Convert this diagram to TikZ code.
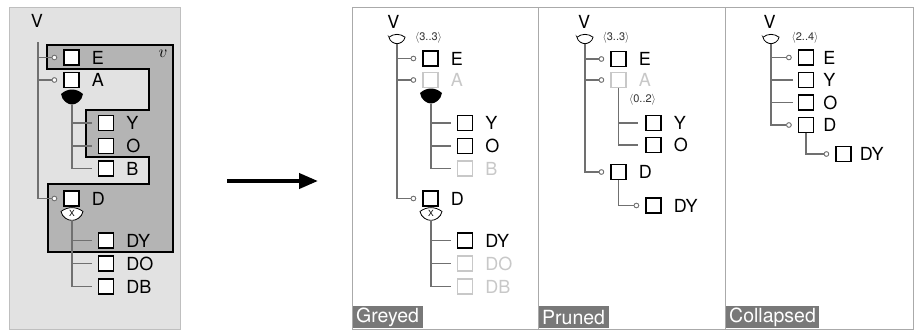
\documentclass[tikz,border=0pt]{standalone}
\usepackage{fontspec}
\setmainfont{TeX Gyre Heros}
\usetikzlibrary{arrows.meta}
\definecolor{lnc}{HTML}{707070}
\definecolor{dis}{HTML}{C8C8C8}
\definecolor{bgl}{HTML}{E2E2E2}
\definecolor{bgd}{HTML}{B4B4B4}
\definecolor{pb}{HTML}{AAAAAA}
\definecolor{tagc}{HTML}{787878}
\begin{document}
\begin{tikzpicture}[x=1pt,y=-1pt,
 fbox/.style={draw=black, line width=1.2pt, fill=white, minimum size=15pt, inner sep=0pt},
 fboxd/.style={fbox, draw=dis},
 ftxt/.style={anchor=west, inner sep=0pt, font=\fontsize{18}{20}\selectfont},
 ftxtd/.style={ftxt, text=dis},
 vtxt/.style={inner sep=0pt, font=\fontsize{18}{20}\selectfont},
 opt/.style={circle, draw=lnc, fill=white, line width=0.8pt, minimum size=4.6pt, inner sep=0pt},
 conn/.style={draw=lnc, line width=1.1pt},
 card/.style={inner sep=0pt, font=\fontsize{11}{11}\selectfont, text=black!80},
 xlab/.style={inner sep=0pt, font=\fontsize{8.5}{8.5}\selectfont},
 panel/.style={draw=pb, line width=1pt, fill=white},
 tag/.style={fill=tagc, text=white, anchor=south west, font=\fontsize{19.5}{19.5}\selectfont, inner xsep=3.5pt, inner ysep=0pt, minimum height=22pt},
 grp/.pic={\path[pic actions] (-11,-3) .. controls (-4,-9) and (4,-9) .. (11,-3) .. controls (10,4) and (4,7.5) .. (0,7.5) .. controls (-4,7.5) and (-10,4) .. cycle; \coordinate (-bot) at (0,7.5);},
 orgrp/.style={fill=black},
 xgrp/.style={draw=black, fill=white, line width=0.8pt, yscale=0.85},
 cgrp/.style={draw=black, fill=white, line width=0.8pt, xscale=0.73, yscale=0.62}
]
\useasboundingbox (0,0) rectangle (914,333);

% ---------------- left panel ----------------
\fill[bgl, draw=black!25, line width=0.6pt] (9,7) rectangle (180,329);
\draw[fill=bgd, line width=1.3pt] (47,45) -- (173,45) -- (173,252) -- (48,252) -- (48,184) -- (149,184) -- (149,157) -- (86,157) -- (86,110) -- (149,110) -- (149,69) -- (47,69) -- cycle;
\node[inner sep=0pt, font=\fontsize{16}{16}\selectfont] (lv) at (163,54) {$v$};

\node[vtxt] (lV) at (37,21) {V};
\coordinate (lVb) at (38,42);
\node[fbox] (lE) at (71.5,57.5) {}; \node[ftxt] (lEt) at ([xshift=12pt]lE.east) {E};
\node[opt] (lEo) at ([xshift=-9pt]lE.west) {};
\node[fbox] (lA) at (71.5,80) {}; \node[ftxt] (lAt) at ([xshift=12pt]lA.east) {A};
\node[opt] (lAo) at ([xshift=-9pt]lA.west) {};
\pic[orgrp] (lgA) at (72,97) {grp};
\node[fbox] (lY) at (106,123) {}; \node[ftxt] (lYt) at ([xshift=12pt]lY.east) {Y};
\node[fbox] (lO) at (106,146) {}; \node[ftxt] (lOt) at ([xshift=12pt]lO.east) {O};
\node[fbox] (lB) at (106,168.5) {}; \node[ftxt] (lBt) at ([xshift=12pt]lB.east) {B};
\node[fbox] (lD) at (71.5,198.5) {}; \node[ftxt] (lDt) at ([xshift=12pt]lD.east) {D};
\node[opt] (lDo) at ([xshift=-9pt]lD.west) {};
\pic[xgrp] (lgD) at (72,214) {grp};
\node[xlab] (lgDx) at (72,213) {X};
\node[fbox] (lDY) at (106,240.5) {}; \node[ftxt] (lDYt) at ([xshift=12pt]lDY.east) {DY};
\node[fbox] (lDO) at (106,263.5) {}; \node[ftxt] (lDOt) at ([xshift=12pt]lDO.east) {DO};
\node[fbox] (lDB) at (106,286.5) {}; \node[ftxt] (lDBt) at ([xshift=12pt]lDB.east) {DB};
\draw[conn] (lVb) |- (lEo);
\draw[conn] (lVb) |- (lAo);
\draw[conn] (lVb) |- (lDo);
\draw[conn, shorten >=6pt] (lgA-bot) |- (lY.west);
\draw[conn, shorten >=6pt] (lgA-bot) |- (lO.west);
\draw[conn, shorten >=6pt] (lgA-bot) |- (lB.west);
\draw[conn, shorten >=6pt] (lgD-bot) |- (lDY.west);
\draw[conn, shorten >=6pt] (lgD-bot) |- (lDO.west);
\draw[conn, shorten >=6pt] (lgD-bot) |- (lDB.west);
\node[opt] at (lEo) {};
\node[opt] at (lAo) {};
\node[opt] at (lDo) {};

% ---------------- arrow ----------------
\coordinate (arS) at (227,181);
\coordinate (arE) at (318,181);
\draw[line width=4pt, -{Triangle[length=19pt,width=15pt]}] (arS) -- (arE);

% ---------------- panels ----------------
\draw[panel] (352,7) rectangle (538,329);
\draw[panel] (538,7) rectangle (725,329);
\draw[panel] (725,7) rectangle (913,329);
\node[tag] (tg) at (352.5,328.5) {Greyed};
\node[tag] (tp) at (538.5,328.5) {Pruned};
\node[tag] (tc) at (725.5,328.5) {Collapsed};

% ---------------- Greyed ----------------
\node[vtxt] (gV) at (393.5,22) {V};
\pic[cgrp] (ggV) at (397,39) {grp};
\node[card] (gc) at (428.5,38) {$\langle$3..3$\rangle$};
\node[fbox] (gE) at (430.5,58.5) {}; \node[ftxt] (gEt) at ([xshift=12pt]gE.east) {E};
\node[opt] (gEo) at ([xshift=-9pt]gE.west) {};
\node[fboxd] (gA) at (430.5,80) {}; \node[ftxtd] (gAt) at ([xshift=12pt]gA.east) {A};
\node[opt] (gAo) at ([xshift=-9pt]gA.west) {};
\pic[orgrp] (ggA) at (431,96) {grp};
\node[fbox] (gY) at (465,123) {}; \node[ftxt] (gYt) at ([xshift=12pt]gY.east) {Y};
\node[fbox] (gO) at (465,146) {}; \node[ftxt] (gOt) at ([xshift=12pt]gO.east) {O};
\node[fboxd] (gB) at (465,168.5) {}; \node[ftxtd] (gBt) at ([xshift=12pt]gB.east) {B};
\node[fbox] (gD) at (430.5,198.5) {}; \node[ftxt] (gDt) at ([xshift=12pt]gD.east) {D};
\node[opt] (gDo) at ([xshift=-9pt]gD.west) {};
\pic[xgrp] (ggD) at (431,214) {grp};
\node[xlab] (ggDx) at (431,213) {X};
\node[fbox] (gDY) at (465,240.5) {}; \node[ftxt] (gDYt) at ([xshift=12pt]gDY.east) {DY};
\node[fboxd] (gDO) at (465,263.5) {}; \node[ftxtd] (gDOt) at ([xshift=12pt]gDO.east) {DO};
\node[fboxd] (gDB) at (465,286.5) {}; \node[ftxtd] (gDBt) at ([xshift=12pt]gDB.east) {DB};
\draw[conn] (ggV-bot) |- (gEo);
\draw[conn] (ggV-bot) |- (gAo);
\draw[conn] (ggV-bot) |- (gDo);
\draw[conn, shorten >=6pt] (ggA-bot) |- (gY.west);
\draw[conn, shorten >=6pt] (ggA-bot) |- (gO.west);
\draw[conn, shorten >=6pt] (ggA-bot) |- (gB.west);
\draw[conn, shorten >=6pt] (ggD-bot) |- (gDY.west);
\draw[conn, shorten >=6pt] (ggD-bot) |- (gDO.west);
\draw[conn, shorten >=6pt] (ggD-bot) |- (gDB.west);
\node[opt] at (gEo) {};
\node[opt] at (gAo) {};
\node[opt] at (gDo) {};

% ---------------- Pruned ----------------
\node[vtxt] (pV) at (584,22) {V};
\pic[cgrp] (pgV) at (585,39) {grp};
\node[card] (pc) at (616,38) {$\langle$3..3$\rangle$};
\node[fbox] (pE) at (618.5,59) {}; \node[ftxt] (pEt) at ([xshift=12pt]pE.east) {E};
\node[opt] (pEo) at ([xshift=-9pt]pE.west) {};
\node[fboxd] (pA) at (618.5,80) {}; \node[ftxtd] (pAt) at ([xshift=12pt]pA.east) {A};
\node[opt] (pAo) at ([xshift=-9pt]pA.west) {};
\node[card] (pc2) at (642.5,100) {$\langle$0..2$\rangle$};
\node[fbox] (pY) at (653.5,123) {}; \node[ftxt] (pYt) at ([xshift=12pt]pY.east) {Y};
\node[fbox] (pO) at (653.5,145) {}; \node[ftxt] (pOt) at ([xshift=12pt]pO.east) {O};
\node[fbox] (pD) at (618.5,172) {}; \node[ftxt] (pDt) at ([xshift=12pt]pD.east) {D};
\node[opt] (pDo) at ([xshift=-9pt]pD.west) {};
\node[fbox] (pDY) at (653.5,205.5) {}; \node[ftxt] (pDYt) at ([xshift=12pt]pDY.east) {DY};
\node[opt] (pDYo) at ([xshift=-9pt]pDY.west) {};
\draw[conn] (pgV-bot) |- (pEo);
\draw[conn] (pgV-bot) |- (pAo);
\draw[conn] (pgV-bot) |- (pDo);
\draw[conn, shorten >=7pt] (pA.south) |- (pY.west);
\draw[conn, shorten >=7pt] (pA.south) |- (pO.west);
\draw[conn] (pD.south) |- (pDYo);
\node[opt] at (pEo) {};
\node[opt] at (pAo) {};
\node[opt] at (pDo) {};
\node[opt] at (pDYo) {};

% ---------------- Collapsed ----------------
\node[vtxt] (cV) at (769.5,22) {V};
\pic[cgrp] (cgV) at (771,39) {grp};
\node[card] (cc) at (805,38) {$\langle$2..4$\rangle$};
\node[fbox] (cE) at (806,57.5) {}; \node[ftxt] (cEt) at ([xshift=9pt]cE.east) {E};
\node[opt] (cEo) at ([xshift=-9pt]cE.west) {};
\node[fbox] (cY) at (806,80) {}; \node[ftxt] (cYt) at ([xshift=9pt]cY.east) {Y};
\node[fbox] (cO) at (806,102.5) {}; \node[ftxt] (cOt) at ([xshift=9pt]cO.east) {O};
\node[fbox] (cD) at (806,125) {}; \node[ftxt] (cDt) at ([xshift=9pt]cD.east) {D};
\node[opt] (cDo) at ([xshift=-9pt]cD.west) {};
\node[fbox] (cDY) at (843.5,154) {}; \node[ftxt] (cDYt) at ([xshift=8pt]cDY.east) {DY};
\node[opt] (cDYo) at ([xshift=-9pt]cDY.west) {};
\draw[conn] (cgV-bot) |- (cEo);
\draw[conn, shorten >=5pt] (cgV-bot) |- (cY.west);
\draw[conn, shorten >=5pt] (cgV-bot) |- (cO.west);
\draw[conn] (cgV-bot) |- (cDo);
\draw[conn] (cD.south) |- (cDYo);
\node[opt] at (cEo) {};
\node[opt] at (cDo) {};
\node[opt] at (cDYo) {};
\end{tikzpicture}
\end{document}
